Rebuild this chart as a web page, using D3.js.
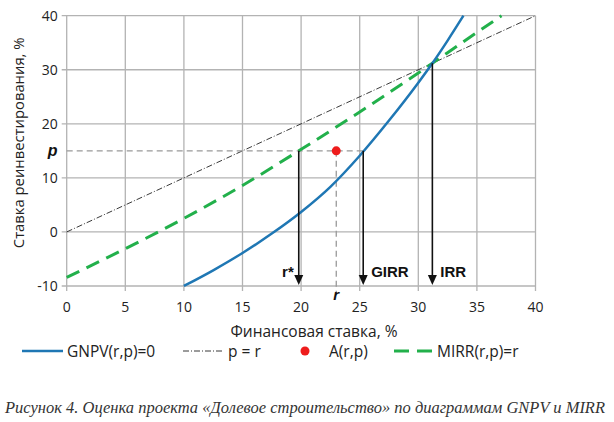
<!DOCTYPE html>
<html><head><meta charset="utf-8">
<script src="https://cdn.jsdelivr.net/npm/d3@7"></script>
<style>body{margin:0;background:#fff}svg{display:block}</style>
</head><body>
<script>
const xTicks = [0,5,10,15,20,25,30,35,40];
const yTicks = [-10,0,10,20,30,40];
const gnpvR = [10,12.5,15,17.5,20,22.5,25,27.5,30,31.2,32.5,33.85];
const gnpvP = [-10,-7.1,-3.9,-0.3,3.7,8.35,14.1,20.6,27.6,31.2,35.4,40];
const mirrR = [0,5,10,15,19.8,25,30,31.2,35,37.1];
const mirrP = [-8.4,-3.1,2.5,8.6,15,22.2,29.4,31.2,36.9,40];
const diagR = [0,40];
const pointA = {r:23, p:15};
const rStar = 19.8, girr = 25.3, irr = 31.2;
const legendLabels = ["GNPV(r,p)=0","p = r","A(r,p)","MIRR(r,p)=r"];
const caption = "Рисунок 4. Оценка проекта «Долевое строительство» по диаграммам GNPV и MIRR";

const W=614,H=422;
const m={l:66.7,r:535.5,t:15.7,b:286};
const svg=d3.select("body").append("svg").attr("width",W).attr("height",H);
const x=d3.scaleLinear().domain([0,40]).range([m.l,m.r]);
const y=d3.scaleLinear().domain([-10,40]).range([m.b,m.t]);
const font="'Open Sans', 'Liberation Sans', sans-serif";
const grid="#b3b3b3";

// grid
const g=svg.append("g");
g.selectAll(".vx").data(xTicks).join("line").attr("x1",d=>x(d)).attr("x2",d=>x(d)).attr("y1",y(40)).attr("y2",y(-10)+5).attr("stroke",grid).attr("stroke-width",1.3);
g.selectAll(".hy").data(yTicks).join("line").attr("y1",d=>y(d)).attr("y2",d=>y(d)).attr("x1",x(0)-5).attr("x2",x(40)).attr("stroke",grid).attr("stroke-width",1.3);

// tick labels
svg.append("g").selectAll("text").data(xTicks).join("text").attr("x",d=>x(d)).attr("y",y(-10)+25.5).attr("text-anchor","middle").attr("font-family",font).attr("font-size",14).attr("fill","#222").text(d=>d);
svg.append("g").selectAll("text").data(yTicks).join("text").attr("x",x(0)-9).attr("y",d=>y(d)+5).attr("text-anchor","end").attr("font-family",font).attr("font-size",14).attr("fill","#222").text(d=>d);

// axis titles
svg.append("text").attr("x",314).attr("y",337).attr("text-anchor","middle").attr("font-family",font).attr("font-size",15.5).attr("fill","#222").text("Финансовая ставка, %");
svg.append("text").attr("transform",`translate(24,${(m.t+m.b)/2 - 8}) rotate(-90)`).attr("text-anchor","middle").attr("font-family",font).attr("font-size",14.8).attr("fill","#222").text("Ставка реинвестирования, %");

// p=r diag
const line=d3.line().x(d=>x(d[0])).y(d=>y(d[1]));
svg.append("path").attr("d",line(diagR.map(r=>[r,r]))).attr("fill","none").attr("stroke","#222").attr("stroke-width",0.9).attr("stroke-dasharray","6,2,1,2");

// guide dashed lines
svg.append("line").attr("x1",x(0)).attr("x2",x(girr)).attr("y1",y(pointA.p)).attr("y2",y(pointA.p)).attr("stroke","#999").attr("stroke-width",1.3).attr("stroke-dasharray","6,4");
svg.append("line").attr("x1",x(pointA.r)).attr("x2",x(pointA.r)).attr("y1",y(pointA.p)).attr("y2",y(-10)+6).attr("stroke","#999").attr("stroke-width",1.3).attr("stroke-dasharray","6,4");

// curves
const curve=d3.line().curve(d3.curveMonotoneX).x(d=>x(d[0])).y(d=>y(d[1]));
svg.append("path").attr("d",curve(mirrR.map((r,i)=>[r,mirrP[i]]))).attr("fill","none").attr("stroke","#22b04b").attr("stroke-width",3).attr("stroke-dasharray","14,8");
svg.append("path").attr("d",curve(gnpvR.map((r,i)=>[r,gnpvP[i]]))).attr("fill","none").attr("stroke","#1f77b4").attr("stroke-width",2.5);

// arrows
const arrows=[{r:rStar,p:pointA.p},{r:girr,p:pointA.p},{r:irr,p:irr}];
arrows.forEach(a=>{
  const xx=x(a.r), yb=y(-10)-1;
  svg.append("line").attr("x1",xx).attr("x2",xx).attr("y1",y(a.p)).attr("y2",yb-8).attr("stroke","#111").attr("stroke-width",1.6);
  svg.append("path").attr("d",`M${xx-4.5},${yb-10}L${xx+4.5},${yb-10}L${xx},${yb}Z`).attr("fill","#111");
});

// point A
svg.append("circle").attr("cx",x(pointA.r)).attr("cy",y(pointA.p)).attr("r",4.5).attr("fill","#ee1c1c");

// labels
const bold=(t,xx,yy,anchor,it)=>svg.append("text").attr("x",xx).attr("y",yy).attr("text-anchor",anchor).attr("font-family","'Liberation Sans', Arial, sans-serif").attr("font-weight","bold").attr("font-style",it?"italic":"normal").attr("font-size",15).attr("fill","#111").text(t);
bold("r*",x(rStar)-5,y(-10)-9,"end",false);
bold("GIRR",x(girr)+8,y(-10)-9,"start",false);
bold("IRR",x(irr)+8,y(-10)-9,"start",false);
bold("r",x(pointA.r),y(-10)+14,"middle",true);
bold("p",x(0)-14,y(pointA.p)+5,"middle",true).attr("font-size",16);

// legend
const ly=351;
const lg=svg.append("g").attr("font-family",font).attr("font-size",15.5).attr("fill","#222");
lg.append("line").attr("x1",22).attr("x2",63).attr("y1",ly).attr("y2",ly).attr("stroke","#1f77b4").attr("stroke-width",2.5);
lg.append("text").attr("x",67).attr("y",ly+6).text(legendLabels[0]);
lg.append("line").attr("x1",183).attr("x2",222).attr("y1",ly).attr("y2",ly).attr("stroke","#222").attr("stroke-width",0.9).attr("stroke-dasharray","6,2,1,2");
lg.append("text").attr("x",228).attr("y",ly+6).text(legendLabels[1]);
lg.append("circle").attr("cx",305).attr("cy",ly).attr("r",4.5).attr("fill","#ee1c1c");
lg.append("text").attr("x",329).attr("y",ly+6).text(legendLabels[2]);
lg.append("line").attr("x1",394).attr("x2",434).attr("y1",ly).attr("y2",ly).attr("stroke","#22b04b").attr("stroke-width",3).attr("stroke-dasharray","15,8");
lg.append("text").attr("x",437).attr("y",ly+6).text(legendLabels[3]);

// caption
svg.append("text").attr("x",5).attr("y",413).attr("font-family","'Liberation Serif', serif").attr("font-style","italic").attr("font-size",16.5).attr("fill","#333").attr("textLength",600).attr("lengthAdjust","spacingAndGlyphs").text(caption);
</script>
</body></html>
